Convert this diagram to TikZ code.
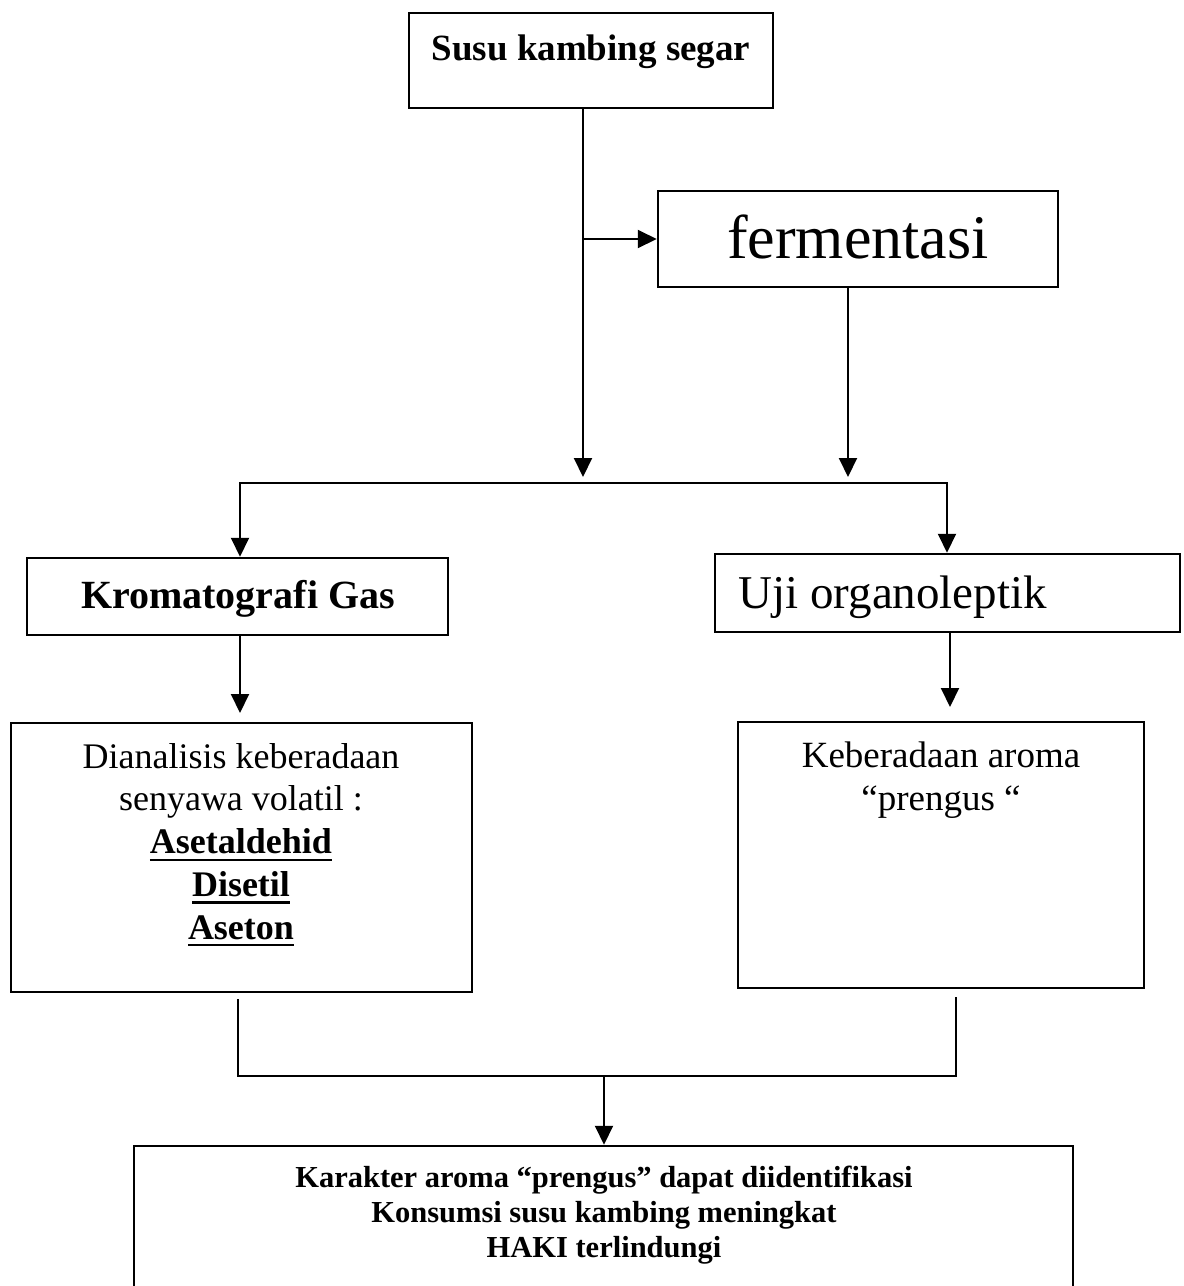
\documentclass[tikz,border=0pt]{standalone}
\usepackage{fontspec}
\setmainfont{Liberation Serif}
\usetikzlibrary{arrows.meta}
\newcommand\myul[1]{\vtop{\hbox{#1}\kern2.3pt\hrule height 1.1pt}}
\begin{document}
\begin{tikzpicture}[x=0.5pt,y=-0.5pt,
  box/.style={draw, line width=1.25pt, inner sep=0pt},
  conn/.style={line width=1pt},
  arr/.style={line width=1pt, -{Triangle[length=9.5pt,width=9pt]}},
  txt/.style={inner sep=0pt}]
\useasboundingbox (0,0) rectangle (1184,1286);
\fill[white] (0,0) rectangle (1184,1286);
\clip (0,0) rectangle (1184,1286);

% boxes
\node[box, minimum width=182pt, minimum height=47.5pt] (top) at (591,60.5) {};
\node[box, minimum width=200pt, minimum height=48pt] (ferm) at (858,239) {};
\node[box, minimum width=210.5pt, minimum height=38.5pt] (kroma) at (237.5,596.5) {};
\node[box, minimum width=232.5pt, minimum height=39pt] (uji) at (947.5,593) {};
\node[box, minimum width=230.5pt, minimum height=134.5pt] (dian) at (241.5,857.5) {};
\node[box, minimum width=203pt, minimum height=133pt] (keb) at (941,855) {};
\node[box, minimum width=469.5pt, minimum height=87pt] (bot) at (603.5,1233) {};

% texts
\node[txt, anchor=base, font=\fontsize{18.5}{22}\selectfont\bfseries] (topT) at (591,60) {Susu kambing segar};
\node[txt, anchor=base, font=\fontsize{31}{37}\selectfont] (fermT) at (858,258) {fermentasi};
\node[txt, anchor=base, font=\fontsize{20}{24}\selectfont\bfseries] (kromaT) at (238,608) {Kromatografi Gas};
\node[txt, anchor=base west, font=\fontsize{23.5}{28}\selectfont] (ujiT) at (738,608) {Uji organoleptik};
\node[txt, anchor=base, font=\fontsize{18}{21.4}\selectfont] (dianT) at (241,768)
  {\begin{tabular}[t]{@{}c@{}}Dianalisis keberadaan\\ senyawa volatil :\\ \textbf{\myul{Asetaldehid}}\\ \textbf{\myul{Disetil}}\\ \textbf{\myul{Aseton}}\end{tabular}};
\node[txt, anchor=base, font=\fontsize{18.5}{21.5}\selectfont] (kebT) at (941,767)
  {\begin{tabular}[t]{@{}c@{}}Keberadaan aroma\\ “prengus “\end{tabular}};
\node[txt, anchor=base, font=\fontsize{15.25}{17.5}\selectfont\bfseries] (botT) at (604,1187)
  {\begin{tabular}[t]{@{}c@{}}Karakter aroma “prengus” dapat diidentifikasi\\ Konsumsi susu kambing meningkat\\ HAKI terlindungi\end{tabular}};

% connectors
\coordinate (t1) at (583,477);
\coordinate (j1) at (583,239);
\draw[arr] (top.south -| t1) -- (t1);
\draw[arr] (j1) -- (ferm.west);
\coordinate (t2) at (848,477);
\draw[arr] (ferm.south -| t2) -- (t2);

\coordinate (hl) at (240,483);
\coordinate (hr) at (947,483);
\draw[conn, line cap=rect] (hl) -- (hr);
\draw[arr] (hl) -- (kroma.north -| hl);
\draw[arr] (hr) -- (uji.north -| hr);

\coordinate (t3) at (240,713);
\draw[arr] (kroma.south -| t3) -- (t3);
\coordinate (t4) at (950,707);
\draw[arr] (uji.south -| t4) -- (t4);

\coordinate (b1) at (238,999);
\coordinate (b2) at (238,1076);
\coordinate (b3) at (956,997);
\coordinate (b4) at (956,1076);
\draw[conn, line join=miter] (b1) -- (b2) -- (b4) -- (b3);
\coordinate (b5) at (604,1076);
\draw[arr] (b5) -- (bot.north -| b5);
\end{tikzpicture}
\end{document}
